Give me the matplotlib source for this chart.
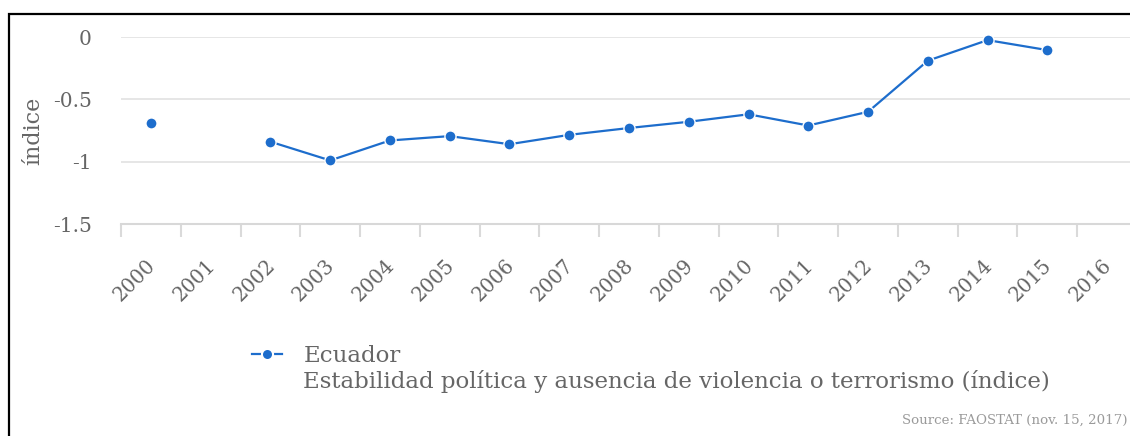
import numpy as np
import matplotlib
matplotlib.use('Agg')
import matplotlib.pyplot as plt
import matplotlib.transforms as mtransforms
from matplotlib.patches import Rectangle
from matplotlib.lines import Line2D

plt.rcParams['font.family'] = ['DejaVu Serif']

# datos (FAOSTAT)
years = [str(y) for y in range(2000, 2017)]
ecuador = [-0.69, np.nan, -0.84, -0.99, -0.83, -0.795, -0.86, -0.785, -0.73,
           -0.68, -0.62, -0.71, -0.60, -0.19, -0.025, -0.105, np.nan]
y_ticks = [0, -0.5, -1, -1.5]
y_labels = ['0', '-0.5', '-1', '-1.5']
serie = 'Ecuador'
indicador = 'Estabilidad política y ausencia de violencia o terrorismo (índice)'
fuente = 'Source: FAOSTAT (nov. 15, 2017)'

W, H = 1130, 436
blue = '#1d6dcc'
grey_txt = '#666666'

fig = plt.figure(figsize=(W / 100, H / 100), dpi=100)
ax = fig.add_axes([121 / W, 1 - 224 / H, (1137 - 121) / W, 187 / H])

x = np.arange(len(years))
ax.plot(x, ecuador, color=blue, lw=1.6, marker='o', ms=8, mfc=blue,
        mec='white', mew=1, clip_on=False, zorder=3)

ax.set_xlim(-0.5, len(years) - 0.5)
ax.set_ylim(-1.5, 0)

# rejilla horizontal
ax.set_yticks(y_ticks)
ax.set_yticklabels(y_labels)
ax.grid(axis='y', color='#e4e4e4', lw=1.3)
ax.tick_params(axis='y', length=0, pad=21, labelsize=14.5, labelcolor=grey_txt)

# ticks en los limites de categoria, etiquetas en el centro
ax.set_xticks(np.arange(len(years) + 1) - 0.5)
ax.set_xticklabels([])
ax.tick_params(axis='x', which='major', length=9, width=1.5, color='#dadada')
ax.set_xticks(x, minor=True)
ax.set_xticklabels(years, minor=True, rotation=45, ha='right', va='top',
                   rotation_mode='anchor')
ax.tick_params(axis='x', which='minor', length=0, pad=23, labelsize=14.3,
               labelcolor=grey_txt)
shift = mtransforms.ScaledTranslation(-5 / 100, 0, fig.dpi_scale_trans)
for lab in ax.get_xticklabels(minor=True):
    lab.set_transform(lab.get_transform() + shift)

for s in ['top', 'right', 'left']:
    ax.spines[s].set_visible(False)
ax.spines['bottom'].set_color('#d8d8d8')
ax.spines['bottom'].set_linewidth(1.5)

ax.set_ylabel('índice', fontsize=16, color=grey_txt)
ax.yaxis.set_label_coords((44 - 121) / 1016, 0.5)

# leyenda
handle = Line2D([], [], color=blue, lw=1.6, marker='o', ms=8, mfc=blue, mec='white', mew=1.5)
fig.legend([handle], [serie], loc='center left', bbox_to_anchor=(252 / W, 1 - 356 / H),
           frameon=False, fontsize=16.5, labelcolor=grey_txt, handlelength=1.3,
           handletextpad=0.95, borderpad=0, borderaxespad=0)
fig.text(303 / W, 1 - 388 / H, indicador, fontsize=16.5, color=grey_txt, va='baseline')
fig.text(1127 / W, 1 - 424 / H, fuente, fontsize=9.6, color='#9a9a9a', ha='right', va='baseline')

# marco negro (solo visible arriba e izquierda)
fig.patches.append(Rectangle((9 / W, -0.2), 1.2, 1.2 - 14 / H, transform=fig.transFigure,
                             fill=False, edgecolor='black', lw=1.6))

fig.savefig('out.png', dpi=100)
